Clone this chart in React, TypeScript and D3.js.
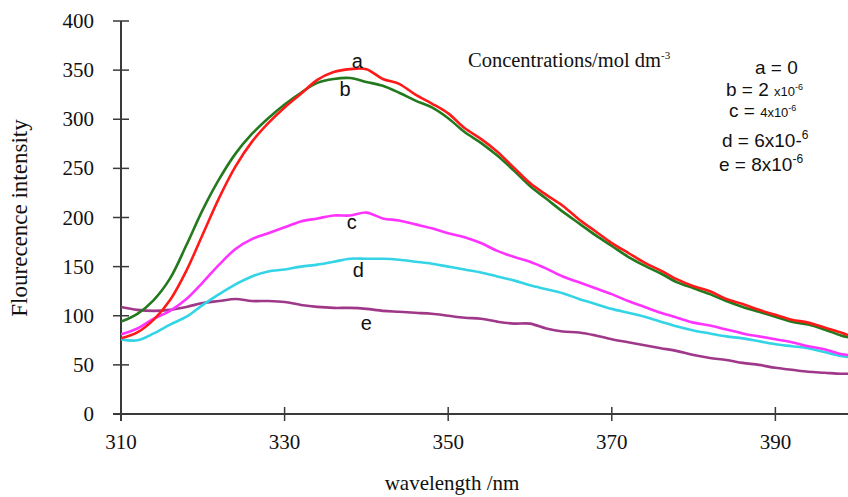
import React, { useEffect, useRef } from 'react'
import * as d3 from 'd3'

// wavelength (nm) sampled every 2 nm
const wavelengths = [310, 312, 314, 316, 318, 320, 322, 324, 326, 328, 330, 332, 334, 336, 338, 340, 342, 344, 346, 348, 350, 352, 354, 356, 358, 360, 362, 364, 366, 368, 370, 372, 374, 376, 378, 380, 382, 384, 386, 388, 390, 392, 394, 396, 398, 399]

const seriesA = [77, 83, 96, 116, 146, 183, 220, 252, 277, 296, 312, 326, 340, 348, 351, 351, 341, 336, 325, 316, 306, 291, 280, 267, 251, 235, 223, 212, 198, 186, 174, 164, 154, 146, 137, 130, 125, 117, 112, 106, 101, 96, 93, 88, 83, 80]
const seriesB = [94, 102, 116, 138, 172, 208, 239, 265, 285, 301, 315, 327, 337, 341, 342, 338, 334, 327, 319, 312, 301, 287, 276, 263, 248, 232, 219, 206, 194, 182, 171, 160, 151, 143, 134, 128, 122, 115, 109, 104, 99, 94, 91, 86, 80, 78]
const seriesC = [81, 87, 97, 105, 117, 134, 152, 168, 178, 184, 190, 196, 199, 202, 202, 205, 199, 197, 193, 189, 184, 180, 174, 166, 160, 155, 148, 140, 134, 128, 122, 115, 109, 103, 98, 93, 90, 86, 82, 79, 76, 73, 69, 66, 61, 60]
const seriesD = [76, 75, 82, 91, 99, 111, 122, 132, 140, 145, 147, 150, 152, 155, 158, 158, 158, 157, 155, 153, 150, 147, 144, 140, 136, 131, 127, 123, 117, 112, 107, 103, 99, 94, 89, 85, 82, 79, 77, 74, 71, 69, 67, 63, 59, 58]
const seriesE = [109, 106, 105, 106, 109, 113, 115, 117, 115, 115, 114, 111, 109, 108, 108, 107, 105, 104, 103, 102, 100, 98, 97, 94, 92, 92, 87, 84, 83, 80, 76, 73, 70, 67, 64, 60, 57, 55, 52, 50, 47, 45, 43, 42, 41, 41]

const seriesKeys = ['a', 'b', 'c', 'd', 'e']
const seriesColors = ['#ff1a1a', '#237a1e', '#ff33ff', '#33d4e6', '#a0388a']
const seriesValues = [seriesA, seriesB, seriesC, seriesD, seriesE]

const yTicks = [0, 50, 100, 150, 200, 250, 300, 350, 400]
const xTicks = [310, 330, 350, 370, 390]

// curve letters: anchor of each label in data units
const curveLabels = [
  { key: 'a', wl: 338.9, v: 352 },
  { key: 'b', wl: 337.4, v: 324 },
  { key: 'c', wl: 338.2, v: 188 },
  { key: 'd', wl: 339, v: 139 },
  { key: 'e', wl: 340, v: 86 },
]

export default function App() {
  const ref = useRef<SVGSVGElement>(null)

  useEffect(() => {
    const W = 848
    const svg = d3.select(ref.current)
    svg.selectAll('*').remove()

    const x = d3.scaleLinear().domain([310, 399]).range([121, 849])
    const y = d3.scaleLinear().domain([0, 400]).range([414, 21])

    const serif = '"Liberation Serif", "Times New Roman", serif'
    const sans = '"Liberation Sans", Arial, sans-serif'

    svg.append('defs').append('clipPath').attr('id', 'plotclip')
      .append('rect').attr('x', 121).attr('y', 0).attr('width', W - 121).attr('height', 414)

    // axes
    const axisColor = '#3a3a3a'
    svg.append('line')
      .attr('x1', 121).attr('x2', 121).attr('y1', 21).attr('y2', 421)
      .attr('stroke', axisColor).attr('stroke-width', 2)
    svg.append('line')
      .attr('x1', 113).attr('x2', W).attr('y1', y(0)).attr('y2', y(0))
      .attr('stroke', axisColor).attr('stroke-width', 2)

    svg.selectAll('.ytick').data(yTicks).enter().append('line')
      .attr('class', 'ytick')
      .attr('x1', 113).attr('x2', 129)
      .attr('y1', d => y(d)).attr('y2', d => y(d))
      .attr('stroke', axisColor).attr('stroke-width', 1.5)

    svg.selectAll('.ylab').data(yTicks).enter().append('text')
      .attr('class', 'ylab')
      .attr('x', 94).attr('y', d => y(d) + 7)
      .attr('text-anchor', 'end')
      .style('font-family', serif).style('font-size', '21px')
      .attr('fill', '#111')
      .text(d => d)

    svg.selectAll('.xtick').data(xTicks).enter().append('line')
      .attr('class', 'xtick')
      .attr('x1', d => x(d)).attr('x2', d => x(d))
      .attr('y1', 407).attr('y2', 421)
      .attr('stroke', axisColor).attr('stroke-width', 1.5)

    svg.selectAll('.xlab').data(xTicks).enter().append('text')
      .attr('class', 'xlab')
      .attr('x', d => x(d)).attr('y', 449)
      .attr('text-anchor', 'middle')
      .style('font-family', serif).style('font-size', '21px')
      .attr('fill', '#111')
      .text(d => d)

    svg.append('text')
      .attr('x', 452).attr('y', 490)
      .attr('text-anchor', 'middle')
      .style('font-family', serif).style('font-size', '21px')
      .attr('fill', '#111')
      .text('wavelength /nm')

    svg.append('text')
      .attr('transform', 'translate(27,218) rotate(-90)')
      .attr('text-anchor', 'middle')
      .style('font-family', serif).style('font-size', '23px')
      .attr('fill', '#111')
      .text('Flourecence intensity')

    // curves
    const line = d3.line<number>()
      .x((_, i) => x(wavelengths[i]))
      .y(d => y(d))
      .curve(d3.curveCatmullRom)

    const g = svg.append('g').attr('clip-path', 'url(#plotclip)')
    // draw e first so that a/b end up on top
    const order = [4, 3, 2, 1, 0]
    order.forEach(i => {
      g.append('path')
        .attr('class', 'curve-' + seriesKeys[i])
        .datum(seriesValues[i])
        .attr('d', line)
        .attr('fill', 'none')
        .attr('stroke', seriesColors[i])
        .attr('stroke-width', 2.6)
        .attr('stroke-linejoin', 'round')
    })

    svg.selectAll('.clab').data(curveLabels).enter().append('text')
      .attr('class', 'clab')
      .attr('x', d => x(d.wl)).attr('y', d => y(d.v))
      .attr('text-anchor', 'middle')
      .style('font-family', sans).style('font-size', '20px')
      .attr('fill', '#111')
      .text(d => d.key)

    // concentration note
    const note = svg.append('text')
      .attr('x', 468).attr('y', 67)
      .style('font-family', serif).style('font-size', '20.5px')
      .attr('fill', '#111')
    note.append('tspan').text('Concentrations/mol dm')
    note.append('tspan').attr('dy', -8).style('font-size', '11px').text('-3')

    const legend = svg.append('g').attr('fill', '#111').style('font-family', sans)

    const la = legend.append('text').attr('x', 755).attr('y', 74).style('font-size', '19px')
    la.append('tspan').text('a = 0')

    const lb = legend.append('text').attr('x', 726).attr('y', 96).style('font-size', '19px')
    lb.append('tspan').text('b = 2 ')
    lb.append('tspan').style('font-size', '13px').text('x10')
    lb.append('tspan').attr('dy', -6).style('font-size', '9px').text('-6')

    const lc = legend.append('text').attr('x', 729).attr('y', 117).style('font-size', '19px')
    lc.append('tspan').text('c = ')
    lc.append('tspan').style('font-size', '13px').text('4x10')
    lc.append('tspan').attr('dy', -6).style('font-size', '9px').text('-6')

    const ld = legend.append('text').attr('x', 722).attr('y', 147).style('font-size', '19px')
    ld.append('tspan').text('d = 6x10-')
    ld.append('tspan').attr('dy', -8).style('font-size', '12px').text('6')

    const le = legend.append('text').attr('x', 719).attr('y', 171).style('font-size', '19px')
    le.append('tspan').text('e = 8x10')
    le.append('tspan').attr('dy', -8).style('font-size', '12px').text('-6')
  }, [])

  return (
    <svg
      ref={ref}
      width={848}
      height={497}
      style={{ position: 'absolute', left: 0, top: 0, background: '#fff' }}
    />
  )
}
